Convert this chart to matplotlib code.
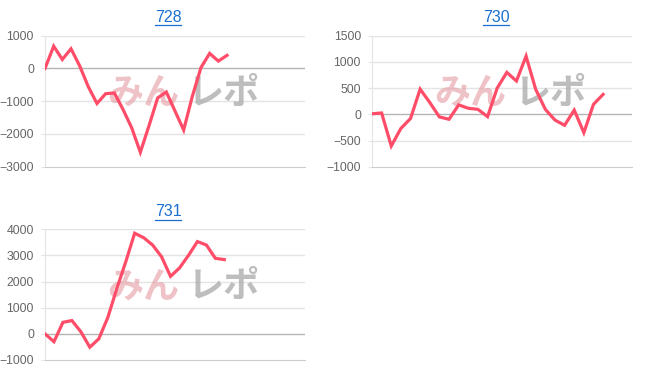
import matplotlib
matplotlib.use("Agg")
import matplotlib.pyplot as plt

# machine numbers and daily values
titles = ["728", "730", "731"]
n_days = [31, 28, 30]
vals_728 = [0, 680, 275, 600, 80, -560, -1070, -770, -750, -1250, -1810, -2560,
            -1750, -900, -720, -1300, -1880, -850, 30, 460, 225, 400]
vals_730 = [10, 25, -605, -270, -80, 480, 225, -50, -95, 180, 115, 95, -45,
            500, 800, 635, 1110, 475, 95, -110, -210, 80, -350, 190, 380]
vals_731 = [0, -300, 440, 510, 80, -510, -190, 620, 1720, 2750, 3850, 3680,
            3400, 2950, 2200, 2520, 3000, 3530, 3400, 2890, 2840]
yticks_728 = [-3000, -2000, -1000, 0, 1000]
yticks_730 = [-1000, -500, 0, 500, 1000, 1500]
yticks_731 = [-1000, 0, 1000, 2000, 3000, 4000]

W, H = 652, 382
LINE = "#ff4d69"

fig = plt.figure(figsize=(W / 100, H / 100), dpi=100)


def px_rect(l, t, r, b):
    return [l / W, 1 - b / H, (r - l) / W, (b - t) / H]


def panel(rect, title, title_xy, ndays, vals, yticks):
    ax = fig.add_axes(px_rect(*rect))
    ax.plot(range(len(vals)), vals, color=LINE, lw=2.3, zorder=4,
            solid_joinstyle="miter")
    ax.set_xlim(0, ndays - 1)
    ax.set_ylim(yticks[0], yticks[-1])
    ax.set_yticks(yticks)
    ax.set_xticks([])
    for y in yticks:
        if y == 0:
            ax.axhline(0, color="#b4b4b4", lw=1, zorder=2)
        elif y != yticks[0]:
            ax.axhline(y, color="#e4e4e4", lw=1, zorder=1)
    for s in ["top", "right"]:
        ax.spines[s].set_visible(False)
    ax.spines["left"].set_color("#e4e4e4")
    ax.spines["bottom"].set_color("#cccccc")
    ax.tick_params(axis="y", length=3, color="#e4e4e4", pad=5,
                   labelsize=8.8, labelcolor="#666666")
    for lab in ax.get_yticklabels():
        lab.set_fontfamily("Liberation Sans")

    # watermark
    ax.text(0.38, 0.56, "みん", transform=ax.transAxes, ha="center", va="center",
            fontsize=26, fontweight="bold", color="#e59aa2", alpha=0.6,
            family=["Noto Sans CJK JP", "DejaVu Sans"], zorder=3)
    ax.text(0.69, 0.56, "レポ", transform=ax.transAxes, ha="center", va="center",
            fontsize=26, fontweight="bold", color="#a8a8a8", alpha=0.75,
            family=["Noto Sans CJK JP", "DejaVu Sans"], zorder=3)

    t = fig.text(title_xy[0] / W, 1 - title_xy[1] / H, title, ha="center",
                 va="center", fontsize=11.5, color="#1a6fd0",
                 family="Liberation Sans")
    t.set_url("#")
    # underline
    fig.add_artist(plt.Line2D([(title_xy[0] - 13) / W, (title_xy[0] + 13) / W],
                              [1 - (title_xy[1] + 8) / H] * 2,
                              color="#1a6fd0", lw=0.9))
    return ax


panel((45, 35.7, 305, 166.7), titles[0], (168, 17), n_days[0], vals_728, yticks_728)
panel((372, 35.7, 632, 166.7), titles[1], (496, 17), n_days[1], vals_730, yticks_730)
panel((45, 229.3, 305, 360), titles[2], (168, 212), n_days[2], vals_731, yticks_731)

fig.savefig("out.png", dpi=100)
